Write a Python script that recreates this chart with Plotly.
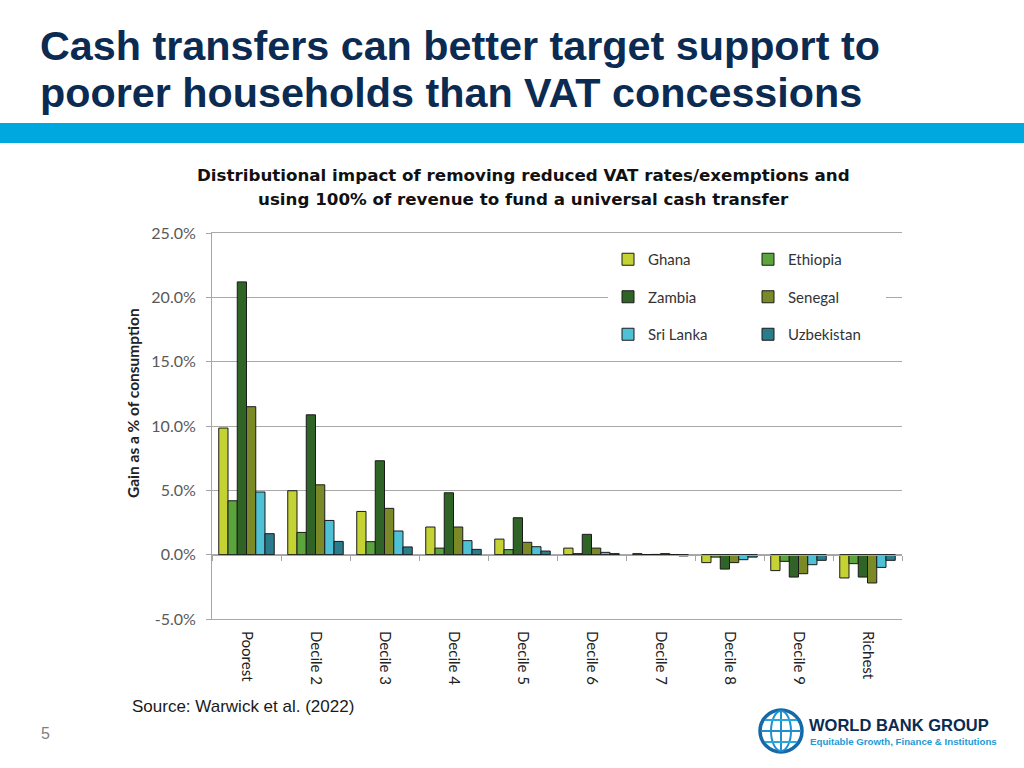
import plotly.graph_objects as go

# ---------------- data ----------------
categories = ["Poorest", "Decile 2", "Decile 3", "Decile 4", "Decile 5",
              "Decile 6", "Decile 7", "Decile 8", "Decile 9", "Richest"]
ghana = [9.84, 4.97, 3.36, 2.15, 1.21, 0.51, 0.08, -0.62, -1.24, -1.81]
ethiopia = [4.19, 1.73, 1.01, 0.51, 0.39, 0.08, 0.0, -0.19, -0.52, -0.70]
zambia = [21.2, 10.87, 7.30, 4.81, 2.87, 1.58, 0.02, -1.12, -1.74, -1.74]
senegal = [11.5, 5.43, 3.60, 2.15, 0.96, 0.51, 0.08, -0.62, -1.48, -2.20]
sri_lanka = [4.87, 2.66, 1.84, 1.09, 0.62, 0.18, 0.0, -0.39, -0.78, -0.99]
uzbekistan = [1.63, 1.03, 0.60, 0.41, 0.28, 0.08, -0.10, -0.19, -0.44, -0.44]

series_names = ["Ghana", "Ethiopia", "Zambia", "Senegal", "Sri Lanka", "Uzbekistan"]
series_values = [ghana, ethiopia, zambia, senegal, sri_lanka, uzbekistan]
series_colors = ["#c4d234", "#5ba53c", "#2f6426", "#7b8a26", "#4fc1d6", "#2a7b8c"]
series_legend = ["legend", "legend2", "legend", "legend2", "legend", "legend2"]

y_ticks = [-5, 0, 5, 10, 15, 20, 25]
y_ticktext = ["%.1f%%" % v for v in y_ticks]

title_text = "Cash transfers can better target support to"
title_text2 = "poorer households than VAT concessions"
subtitle1 = "Distributional impact of removing reduced VAT rates/exemptions and"
subtitle2 = "using 100% of revenue to fund a universal cash transfer"
y_title = "Gain as a % of consumption"
source_text = "Source: Warwick et al. (2022)"

# ---------------- geometry helpers (page pixels -> paper) ----------------
PL, PR, PT, PB = 212, 902, 233, 619   # plot area in page pixels
W, H = 1024, 768


def px(x):
    return (x - PL) / (PR - PL)


def py(y):
    return (PB - y) / (PB - PT)


CALIBRI = "Lato, Carlito, Calibri, sans-serif"
ARIAL = "Liberation Sans, Arial, sans-serif"
WIDE = "DejaVu Sans, Liberation Sans, sans-serif"

fig = go.Figure()
for name, vals, col, lg in zip(series_names, series_values, series_colors, series_legend):
    fig.add_trace(go.Bar(
        x=categories, y=vals, name=name, legend=lg, legendgroup=name,
        marker=dict(color=col, line=dict(color="#1a1a1a", width=1)),
    ))

# helper trace so the zero-line category axis gets drawn
fig.add_trace(go.Scatter(x=categories, y=[None] * len(categories), xaxis="x2",
                         showlegend=False, hoverinfo="skip", mode="lines"))

annotations = [
    dict(text=title_text, x=px(38), y=py(46), xanchor="left", yanchor="middle",
         font=dict(family=ARIAL, size=41.3, color="#0b2b52", weight="bold")),
    dict(text=title_text2, x=px(38), y=py(93), xanchor="left", yanchor="middle",
         font=dict(family=ARIAL, size=41.3, color="#0b2b52", weight="bold")),
    dict(text=subtitle1, x=px(523), y=py(175), xanchor="center", yanchor="middle",
         font=dict(family=WIDE, size=16.7, color="#111111", weight="bold")),
    dict(text=subtitle2, x=px(523), y=py(199), xanchor="center", yanchor="middle",
         font=dict(family=WIDE, size=16.7, color="#111111", weight="bold")),
    dict(text=y_title, x=px(133), y=py(403), xanchor="center", yanchor="middle",
         textangle=-90,
         font=dict(family=CALIBRI, size=15.5, color="#222222", weight="bold")),
    dict(text=source_text, x=px(130), y=py(706), xanchor="left", yanchor="middle",
         font=dict(family=ARIAL, size=17, color="#1a1a1a")),
    dict(text="5", x=px(39), y=py(733), xanchor="left", yanchor="middle",
         font=dict(family=ARIAL, size=16, color="#7f7f7f")),
    dict(text="WORLD BANK GROUP", x=px(807), y=py(725), xanchor="left", yanchor="middle",
         font=dict(family=ARIAL, size=16.5, color="#0b2b52", weight="bold")),
    dict(text="Equitable Growth, Finance &amp; Institutions", x=px(808), y=py(741),
         xanchor="left", yanchor="middle",
         font=dict(family=ARIAL, size=9.7, color="#1c9ad6", weight="bold")),
]
for a in annotations:
    a.update(xref="paper", yref="paper", showarrow=False)

shapes = [
    # blue band under the title
    dict(type="rect", x0=px(-5), x1=px(1030), y0=py(143), y1=py(123),
         fillcolor="#00a8e0", line=dict(width=0)),
    # white backing behind the legend block (hides gridline as in the original)
    dict(type="rect", x0=px(618), x1=px(886), y0=py(346), y1=py(247),
         fillcolor="white", line=dict(width=0)),
    # globe logo
    dict(type="circle", x0=px(760), x1=px(802), y0=py(752), y1=py(710),
         line=dict(color="#1569a8", width=3.5)),
    dict(type="circle", x0=px(771), x1=px(791), y0=py(751), y1=py(711),
         line=dict(color="#1f8fd0", width=2)),
    dict(type="line", x0=px(761), x1=px(801), y0=py(731), y1=py(731),
         line=dict(color="#1f8fd0", width=2)),
    dict(type="line", x0=px(781), x1=px(781), y0=py(711), y1=py(751),
         line=dict(color="#1f8fd0", width=2)),
    dict(type="line", x0=px(765), x1=px(797), y0=py(720), y1=py(720),
         line=dict(color="#27a7e0", width=2)),
    dict(type="line", x0=px(765), x1=px(797), y0=py(742), y1=py(742),
         line=dict(color="#27a7e0", width=2)),
]
for s in shapes:
    s.update(xref="paper", yref="paper", layer="above")

legend_common = dict(
    bgcolor="white", borderwidth=0, orientation="v",
    font=dict(family=CALIBRI, size=15, color="#333333"),
    xanchor="left", yanchor="top", traceorder="grouped",
    itemclick=False, itemdoubleclick=False, tracegroupgap=15,
)

fig.update_layout(
    width=W, height=H,
    margin=dict(l=PL, r=W - PR, t=PT, b=H - PB, autoexpand=False),
    paper_bgcolor="white", plot_bgcolor="white",
    barmode="group", bargap=0.196, bargroupgap=0,
    showlegend=True,
    legend=dict(x=px(608), y=py(243), **legend_common),
    legend2=dict(x=px(748), y=py(243), **legend_common),
    xaxis=dict(
        type="category", showline=True, mirror=True, linecolor="#a9a9a9",
        linewidth=1, ticks="outside", ticklen=8,
        tickcolor="rgba(0,0,0,0)", showgrid=False, zeroline=False,
        tickangle=90, tickfont=dict(family=CALIBRI, size=15, color="#222222"),
        range=[-0.5, len(categories) - 0.5],
    ),
    xaxis2=dict(
        type="category", overlaying="x", matches="x", anchor="free",
        position=py(555), side="bottom", showline=True, linecolor="#a6a6a6",
        linewidth=1, ticks="outside", ticklen=5, tickcolor="#a6a6a6",
        tickson="boundaries", showticklabels=False, showgrid=False,
    ),
    yaxis=dict(
        range=[y_ticks[0], y_ticks[-1]], tickvals=y_ticks, ticktext=y_ticktext,
        showgrid=True, gridcolor="#a9a9a9", gridwidth=1,
        zeroline=False, showline=True, linecolor="#a6a6a6", ticks="outside",
        ticklen=5, tickcolor="#a6a6a6", ticklabelstandoff=7,
        tickfont=dict(family=CALIBRI, size=16, color="#595959"),
    ),
    annotations=annotations,
    shapes=shapes,
)

fig.write_html("out.html", config={"displayModeBar": False},
               post_script="document.body.style.margin='0';")
